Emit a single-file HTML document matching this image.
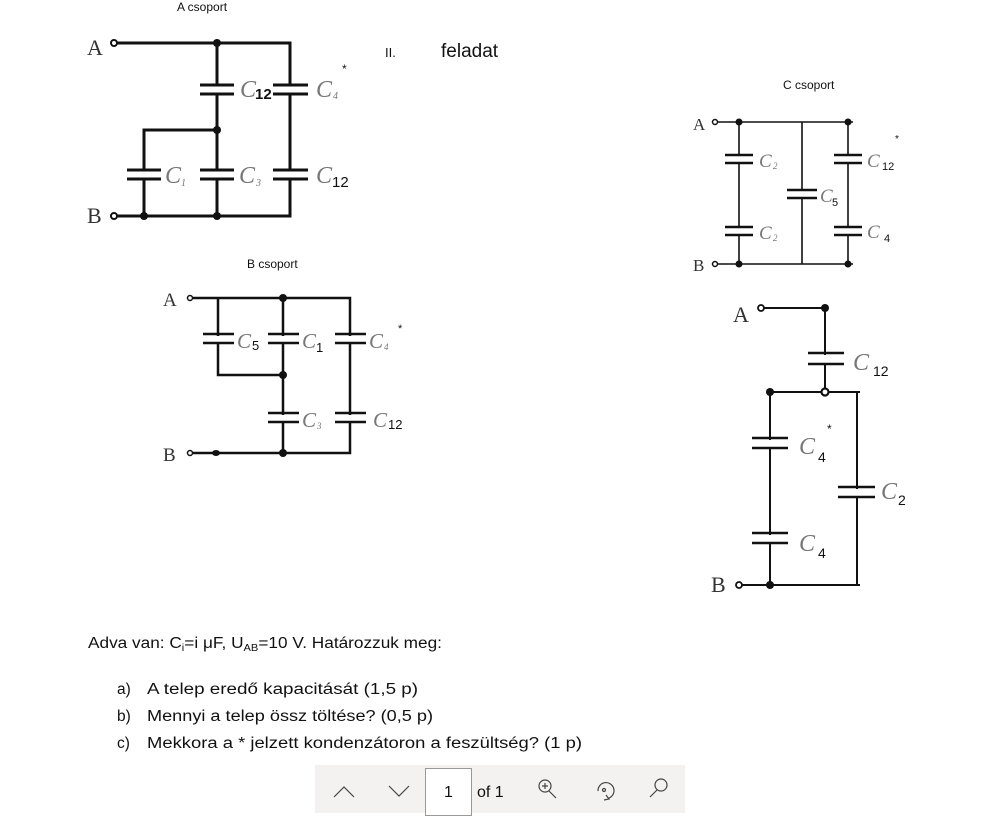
<!DOCTYPE html>
<html><head><meta charset="utf-8"><style>
html,body{margin:0;padding:0;background:#fff;}
svg{display:block;}
.c{font-family:"Liberation Serif",serif;font-style:italic;fill:#777;}
.s{font-family:"Liberation Sans",sans-serif;fill:#111;}
.t{font-family:"Liberation Serif",serif;fill:#333;}
</style></head><body>
<svg width="995" height="827" viewBox="0 0 995 827" xmlns="http://www.w3.org/2000/svg">
<g fill="none" stroke="#111">
<!-- Circuit A -->
<g stroke-width="3">
<path d="M117 43H290V216H117"/>
<path d="M217 43V130H144V216"/>
<path d="M217 130V216"/>
</g>
<g fill="#fff" stroke="none">
<rect x="199" y="86" width="36" height="7"/>
<rect x="272" y="86" width="36" height="7"/>
<rect x="126" y="171" width="36" height="7"/>
<rect x="199" y="171" width="36" height="7"/>
<rect x="272" y="171" width="36" height="7"/>
</g>
<g stroke-width="3">
<path d="M200 85H234M200 94H234M273 85H308M273 94H308"/>
<path d="M127 170H161M127 179H161M200 170H234M200 179H234M273 170H308M273 179H308"/>
</g>
<circle cx="114" cy="43" r="3" fill="#fff" stroke-width="2"/>
<circle cx="114" cy="216" r="3" fill="#fff" stroke-width="2"/>
<g fill="#111" stroke="none"><circle cx="217" cy="43" r="4"/><circle cx="217" cy="130" r="4"/><circle cx="144" cy="216" r="4"/><circle cx="217" cy="216" r="4"/></g>

<!-- Circuit B -->
<g stroke-width="2.5">
<path d="M193 298H350V453H193"/>
<path d="M218 298V375H283M283 298V453"/>
</g>
<g fill="#fff" stroke="none">
<rect x="202" y="336" width="32" height="6"/><rect x="267" y="336" width="32" height="6"/><rect x="334" y="336" width="32" height="6"/>
<rect x="267" y="415" width="32" height="6"/><rect x="334" y="415" width="32" height="6"/>
</g>
<g stroke-width="2.5">
<path d="M203 334H234M203 343H234M268 334H299M268 343H299M335 334H366M335 343H366"/>
<path d="M268 413H299M268 422H299M335 413H366M335 422H366"/>
</g>
<circle cx="190" cy="298" r="2.5" fill="#fff" stroke-width="1.5"/>
<circle cx="190" cy="453" r="2.5" fill="#fff" stroke-width="1.5"/>
<g fill="#111" stroke="none"><circle cx="283" cy="298" r="4"/><circle cx="283" cy="375" r="4"/><circle cx="283" cy="453" r="4"/><ellipse cx="216" cy="453" rx="4" ry="3"/></g>

<!-- Circuit C -->
<g stroke-width="1.6">
<path d="M718 122H853M718 264H853"/>
<path d="M739 122V264M802 122V264M848 122V264"/>
</g>
<g fill="#fff" stroke="none">
<rect x="724" y="156" width="30" height="6"/><rect x="724" y="228" width="30" height="6"/>
<rect x="786" y="191" width="32" height="6"/>
<rect x="833" y="156" width="30" height="6"/><rect x="833" y="228" width="30" height="6"/>
</g>
<g stroke-width="2.5">
<path d="M725 155H753M725 163H753M725 227H753M725 235H753"/>
<path d="M787 190H817M787 198H817"/>
<path d="M834 155H862M834 163H862M834 227H862M834 235H862"/>
</g>
<circle cx="715" cy="122" r="2.5" fill="#fff" stroke-width="1.5"/>
<circle cx="715" cy="264" r="2.5" fill="#fff" stroke-width="1.5"/>
<g fill="#111" stroke="none"><circle cx="739" cy="122" r="3.5"/><circle cx="848" cy="122" r="3.5"/><circle cx="739" cy="264" r="3.5"/><circle cx="848" cy="264" r="3.5"/></g>

<!-- Circuit D -->
<g stroke-width="2">
<path d="M764 308H828M825 308V392M770 392H860M770 392V585M857 392V585M742 585H860"/>
</g>
<g fill="#fff" stroke="none">
<rect x="807" y="355" width="38" height="8"/>
<rect x="751" y="440" width="38" height="7"/><rect x="751" y="535" width="38" height="7"/>
<rect x="837" y="489" width="38" height="7"/>
</g>
<g stroke-width="2.5">
<path d="M808 353H844M808 364H844"/>
<path d="M752 438H788M752 448H788M752 533H788M752 543H788"/>
<path d="M838 487H875M838 497H875"/>
</g>
<circle cx="761" cy="308" r="3" fill="#fff" stroke-width="1.8"/>
<circle cx="739" cy="585" r="3" fill="#fff" stroke-width="1.8"/>
<g fill="#111" stroke="none"><circle cx="825" cy="308" r="4"/><circle cx="770" cy="392" r="4"/><circle cx="770" cy="585" r="4"/></g>
<circle cx="825" cy="392" r="3.5" fill="#fff" stroke-width="2.2"/>
</g>

<!-- Labels -->
<g class="s" font-size="12"><text x="177" y="11">A csoport</text><text x="247" y="268">B csoport</text><text x="783" y="89">C csoport</text></g>
<g class="t" font-size="22"><text x="87" y="55">A</text><text x="87" y="223">B</text>
<text x="163" y="306" font-size="19">A</text><text x="163" y="461" font-size="19">B</text>
<text x="693" y="130" font-size="17">A</text><text x="693" y="271" font-size="17">B</text>
<text x="733" y="322">A</text><text x="711" y="592">B</text></g>

<!-- A labels -->
<text class="c" x="240" y="97" font-size="24">C</text><text class="s" x="255" y="99" font-size="15" font-weight="bold">12</text>
<text class="c" x="316" y="97" font-size="24">C</text><text class="c" x="333" y="99" font-size="10">4</text>
<text class="s" x="342" y="73" font-size="12">*</text>
<text class="c" x="165" y="183" font-size="24">C</text><text class="c" x="181" y="186" font-size="10">1</text>
<text class="c" x="239" y="183" font-size="24">C</text><text class="c" x="256" y="186" font-size="10">3</text>
<text class="c" x="316" y="183" font-size="24">C</text><text class="s" x="332" y="187" font-size="15">12</text>
<!-- B labels -->
<text class="c" x="237" y="348" font-size="21">C</text><text class="s" x="252" y="350" font-size="13">5</text>
<text class="c" x="302" y="348" font-size="21">C</text><text class="s" x="316" y="352" font-size="13">1</text>
<text class="c" x="369" y="348" font-size="21">C</text><text class="c" x="384" y="350" font-size="9">4</text>
<text class="s" x="398" y="332" font-size="11">*</text>
<text class="c" x="302" y="427" font-size="21">C</text><text class="c" x="317" y="429" font-size="9">3</text>
<text class="c" x="373" y="427" font-size="21">C</text><text class="s" x="388" y="429" font-size="13">12</text>
<!-- C labels -->
<text class="c" x="759" y="167" font-size="19">C</text><text class="c" x="773" y="169" font-size="9">2</text>
<text class="c" x="759" y="239" font-size="19">C</text><text class="c" x="773" y="241" font-size="9">2</text>
<text class="c" x="820" y="202" font-size="19">C</text><text class="s" x="832" y="206" font-size="11">5</text>
<text class="c" x="867" y="167" font-size="19">C</text><text class="s" x="882" y="170" font-size="11">12</text>
<text class="s" x="895" y="142" font-size="10">*</text>
<text class="c" x="867" y="238" font-size="19">C</text><text class="s" x="884" y="242" font-size="11">4</text>
<!-- D labels -->
<text class="c" x="853" y="370" font-size="24">C</text><text class="s" x="873" y="376" font-size="14">12</text>
<text class="c" x="799" y="454" font-size="24">C</text><text class="s" x="818" y="462" font-size="14">4</text>
<text class="s" x="827" y="433" font-size="12">*</text>
<text class="c" x="881" y="499" font-size="24">C</text><text class="s" x="898" y="505" font-size="14">2</text>
<text class="c" x="799" y="551" font-size="24">C</text><text class="s" x="818" y="558" font-size="14">4</text>

<g class="s"><text x="385" y="57" font-size="13">II.</text><text x="441" y="57" font-size="19">feladat</text></g>

<!-- Text -->
<g class="s" font-size="15.5">
<text x="88" y="648" textLength="354" lengthAdjust="spacingAndGlyphs">Adva van: C<tspan font-size="10" dy="3">i</tspan><tspan dy="-3">=i μF, U</tspan><tspan font-size="10" dy="3">AB</tspan><tspan dy="-3">=10 V. Határozzuk meg:</tspan></text>
<text x="117" y="694">a)</text><text x="147" y="694" textLength="271" lengthAdjust="spacingAndGlyphs">A telep eredő kapacitását   (1,5 p)</text>
<text x="117" y="721">b)</text><text x="147" y="721" textLength="286" lengthAdjust="spacingAndGlyphs">Mennyi a telep össz töltése? (0,5 p)</text>
<text x="117" y="748">c)</text><text x="147" y="748" textLength="435" lengthAdjust="spacingAndGlyphs">Mekkora a * jelzett kondenzátoron a feszültség? (1 p)</text>
</g>

<!-- Toolbar -->
<rect x="315" y="765" width="370" height="48" fill="#f3f2f1"/>
<rect x="425.5" y="768.5" width="46" height="47" fill="#fff" stroke="#999"/>
<g fill="none" stroke="#444" stroke-width="1.2">
<path d="M334 797L344 787L354 797"/>
<path d="M389 786L399 796L409 786"/>
<circle cx="545" cy="786" r="6"/><path d="M549 791L556 798M542 786H548M545 783V789"/>
<path d="M598 791A8 8 0 1 1 609 798M606 795L609 799L604 800"/><circle cx="604" cy="790" r="1.5"/>
<circle cx="661" cy="785" r="6"/><path d="M657 790L650 797"/>
</g>
<text class="s" x="444" y="797" font-size="16" fill="#333">1</text>
<text class="s" x="477" y="797" font-size="16" fill="#333">of 1</text>
</svg>
</body></html>
